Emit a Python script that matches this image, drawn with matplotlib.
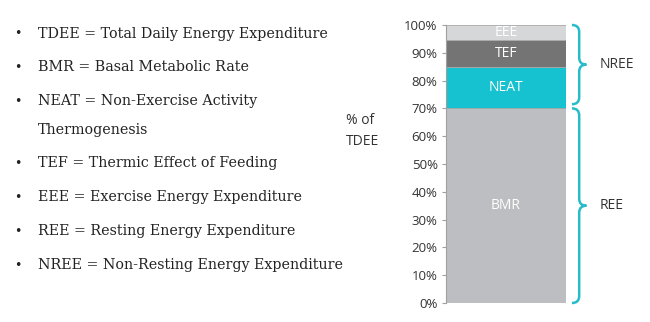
import matplotlib
matplotlib.use("Agg")
import matplotlib.pyplot as plt
from matplotlib.path import Path
from matplotlib.patches import PathPatch
from matplotlib.transforms import blended_transform_factory

# Data
componentes = ["BMR", "NEAT", "TEF", "EEE"]
valores = [70, 15, 9.5, 5.5]
cores = ["#bdbec1", "#16c2cf", "#747474", "#d6d7d8"]

definicoes = [
    "TDEE = Total Daily Energy Expenditure",
    "BMR = Basal Metabolic Rate",
    "NEAT = Non-Exercise Activity\nThermogenesis",
    "TEF = Thermic Effect of Feeding",
    "EEE = Exercise Energy Expenditure",
    "REE = Resting Energy Expenditure",
    "NREE = Non-Resting Energy Expenditure",
]
grupos = [("NREE", 71.5, 100), ("REE", 0, 70)]

W, H = 650, 322
fig = plt.figure(figsize=(W / 100, H / 100), dpi=100)
fig.patch.set_facecolor("white")

ax = fig.add_axes([446 / W, 1 - 303 / H, 120 / W, 278 / H])

base = 0
for nome, v, c in zip(componentes, valores, cores):
    ax.bar(0, v, bottom=base, width=1, color=c, edgecolor="#a8a8a8", linewidth=0.6)
    ax.text(0, base + v / 2, nome, ha="center", va="center", color="white",
            fontsize=10, family="Open Sans")
    base += v

ax.set_xlim(-0.5, 0.5)
ax.set_ylim(0, 100)
ax.set_yticks(range(0, 101, 10))
ax.set_yticklabels([f"{t}%" for t in range(0, 101, 10)], family="Open Sans",
                   fontsize=9.5, color="#333333")
ax.set_xticks([])
for s in ["top", "right", "bottom"]:
    ax.spines[s].set_visible(False)
ax.spines["left"].set_color("#a0a0a0")
ax.tick_params(axis="y", length=3, color="#a0a0a0", pad=3)

# chaves
tr = blended_transform_factory(ax.transAxes, ax.transData)
x0, xb, xt = 1.05, 1.11, 1.17
d = 2.5
for nome, yb, ya in grupos:
    ym = (ya + yb) / 2
    verts = [(x0, ya), (xb, ya), (xb, ya - d),
             (xb, ym + d), (xb, ym), (xt, ym),
             (xb, ym), (xb, ym - d),
             (xb, yb + d), (xb, yb), (x0, yb)]
    codes = [Path.MOVETO, Path.CURVE3, Path.CURVE3,
             Path.LINETO, Path.CURVE3, Path.CURVE3,
             Path.CURVE3, Path.CURVE3,
             Path.LINETO, Path.CURVE3, Path.CURVE3]
    ax.add_patch(PathPatch(Path(verts, codes), transform=tr, fill=False,
                           edgecolor="#27bcc9", linewidth=1.8, clip_on=False))
    ax.text(1.28, ym, nome, transform=tr, ha="left", va="center",
            family="Open Sans", fontsize=10, color="#333333")

fig.text(346 / W, 1 - 131 / H, "% of\nTDEE", ha="left", va="center",
         family="Open Sans", fontsize=10, color="#333333", linespacing=1.5)

# lista de definicoes
ys = [34, 67, 101, 163, 197, 231, 265]
for y, t in zip(ys, definicoes):
    fig.text(14 / W, 1 - y / H, "\u2022", ha="left", va="center",
             family="DejaVu Serif", fontsize=9, color="#222222")
    for i, linha in enumerate(t.split("\n")):
        fig.text(38 / W, 1 - (y + 29 * i) / H, linha, ha="left", va="center",
                 family="DejaVu Serif", fontsize=10.3, color="#222222")

fig.savefig("out.png", dpi=100)
